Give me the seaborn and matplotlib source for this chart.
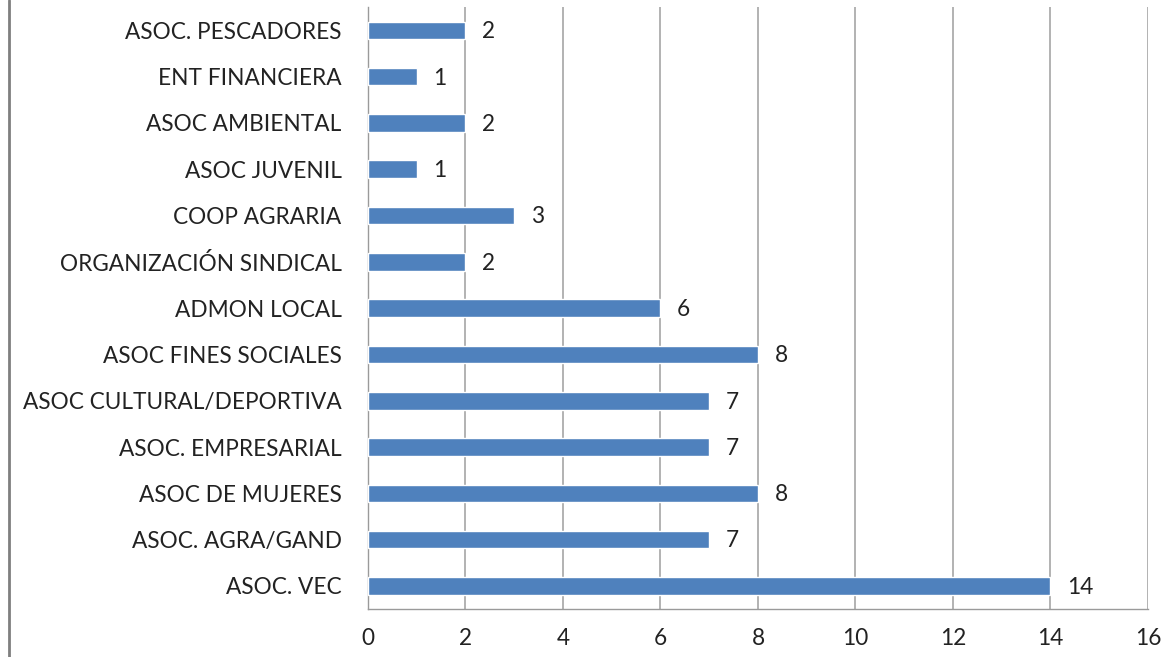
import matplotlib
matplotlib.use('Agg')
import matplotlib.pyplot as plt
import seaborn as sns
import pandas as pd
from matplotlib.lines import Line2D

# Data (top to bottom as shown)
categories = ['ASOC. PESCADORES', 'ENT FINANCIERA', 'ASOC AMBIENTAL', 'ASOC JUVENIL',
              'COOP AGRARIA', 'ORGANIZACIÓN SINDICAL', 'ADMON LOCAL', 'ASOC FINES SOCIALES',
              'ASOC CULTURAL/DEPORTIVA', 'ASOC. EMPRESARIAL', 'ASOC DE MUJERES',
              'ASOC. AGRA/GAND', 'ASOC. VEC']
counts = [2, 1, 2, 1, 3, 2, 6, 8, 7, 7, 8, 7, 14]
x_ticks = [0, 2, 4, 6, 8, 10, 12, 14, 16]

df = pd.DataFrame({'entidad': categories, 'n': counts})

sns.set_style('white')
plt.rcParams['font.family'] = ['Lato', 'DejaVu Sans']

fig = plt.figure(figsize=(11.69, 6.57), dpi=100)
ax = fig.add_axes([0.3148, 0.073, 0.982 - 0.3148, 0.989 - 0.073])

sns.barplot(data=df, x='n', y='entidad', order=categories, color='#4F81BD',
            saturation=1, width=0.38, ax=ax, zorder=3)

ax.set_xlim(0, 16)
ax.set_ylim(len(categories) - 0.5, -0.5)
ax.set_xticks(x_ticks)
ax.set_xticklabels([str(t) for t in x_ticks], fontsize=16.3, color='#222222')
ax.tick_params(axis='x', length=8, width=1, color='#9a9a9a', direction='out', pad=6)
ax.tick_params(axis='y', length=0, labelsize=16.3, labelcolor='#222222', pad=19)
ax.set_xlabel('')
ax.set_ylabel('')
ax.grid(True, axis='x', color='#a6a6a6', linewidth=1.2, zorder=0)

for s in ['top', 'right']:
    ax.spines[s].set_visible(False)
for s in ['left', 'bottom']:
    ax.spines[s].set_color('#9a9a9a')
    ax.spines[s].set_linewidth(1)

for i, v in enumerate(counts):
    ax.annotate(str(v), xy=(v, i), xytext=(12, -1), textcoords='offset points',
                va='center', ha='left', fontsize=16.3, color='#222222')

# outer frame line on the left
fig.add_artist(Line2D([9 / 1169, 9 / 1169], [0, 1], transform=fig.transFigure,
                      color='#7f7f7f', linewidth=2))

fig.savefig('out.png', dpi=100)
